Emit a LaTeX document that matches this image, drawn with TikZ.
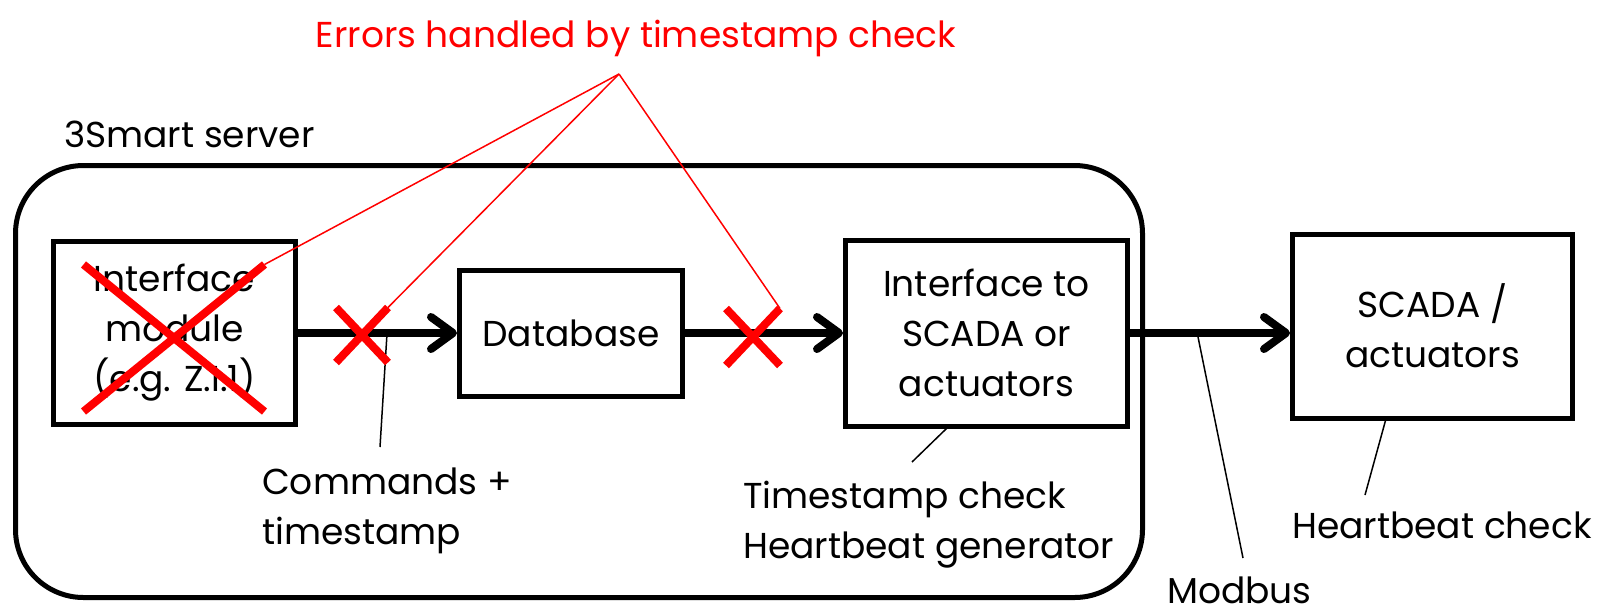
\documentclass[tikz,border=0pt]{standalone}
\usepackage{fontspec}
\setmainfont{Poppins}
\usepackage{xcolor}
\usepackage{tikz}
\usetikzlibrary{shapes, arrows.meta, positioning, calc}

\begin{document}
\begin{tikzpicture}[
        x=1pt, y=-1pt,
        font=\fontsize{36}{50}\selectfont,
        box/.style={rectangle, draw, line width=5pt, align=center, inner sep=0pt},
        server/.style={rectangle, draw, line width=5pt, rounded corners=68pt, minimum width=1127pt, minimum height=432pt},
        xmark/.style={cross out, draw=red, line width=8pt, inner sep=0pt, outer sep=0pt},
        line/.style={draw, line width=8pt, -{Straight Barb[length=22pt, width=32pt, round]}},
        note/.style={draw, line width=1.5pt},
        err/.style={draw=red, line width=1.5pt},
        lbl/.style={align=left, inner sep=0pt}
    ]
    \useasboundingbox (0,0) rectangle (1598,614);

    \node [server] (server) at (579,381.5) {};
    \node [lbl, anchor=base west] (srvlbl) at (64,147) {3Smart server};

    \node [box, minimum width=242pt, minimum height=183pt] (module) at (174.5,333) {Interface\\module\\(e.g. Z.I.1)};
    \node [box, minimum width=223pt, minimum height=126pt, right=159pt of module] (db) {Database};
    \node [box, minimum width=282pt, minimum height=186pt, right=158pt of db] (iface) {Interface to\\SCADA or\\actuators};
    \node [box, minimum width=280pt, minimum height=184pt, right=160pt of iface, yshift=7pt] (scada) {SCADA /\\actuators};

    \path [line] (module) -- (db);
    \path [line] (db) -- (iface);
    \path [line] (iface.east) -- (iface.east -| scada.west);

    \coordinate (cmdpt) at ($(module.east)!0.56!(db.west)$);
    \coordinate (mbpt) at ($(iface.east)!0.42!(iface.east -| scada.west)$);

    % labels below
    \node [lbl, anchor=base west] (cmdlbl) at (262,544) {Commands +\\timestamp};
    \node [lbl, anchor=base west] (tslbl) at (743,558) {Timestamp check\\Heartbeat generator};
    \node [lbl, anchor=base west] (mblbl) at (1167,603) {Modbus};
    \node [lbl, anchor=base west] (hblbl) at (1292,538) {Heartbeat check};

    \coordinate (cmdend) at (380,447);
    \coordinate (tsend) at (912,462);
    \coordinate (mbend) at (1243,558);
    \coordinate (hbend) at (1365,495);
    \draw [note] (cmdpt) -- (cmdend);
    \draw [note] ([xshift=-40pt]iface.south) -- (tsend);
    \draw [note] (mbpt) -- (mbend);
    \draw [note] ([xshift=-47pt]scada.south) -- (hbend);

    % failures
    \node [xmark, minimum width=181pt, minimum height=147pt] (xmod) at (174,338) {};
    \node [xmark, minimum width=52pt, minimum height=55pt] (xcmd) at (362,335) {};
    \node [xmark, minimum width=54pt, minimum height=57pt] (xdb) at (753,337) {};

    \node [lbl, text=red, anchor=base] (errlbl) at (636,47) {Errors handled by timestamp check};
    \coordinate (errtip) at (619,74);
    \draw [err] (errtip) -- (xmod.north east);
    \draw [err] (errtip) -- (xcmd.north east);
    \draw [err] (errtip) -- (xdb.north east);
\end{tikzpicture}
\end{document}
